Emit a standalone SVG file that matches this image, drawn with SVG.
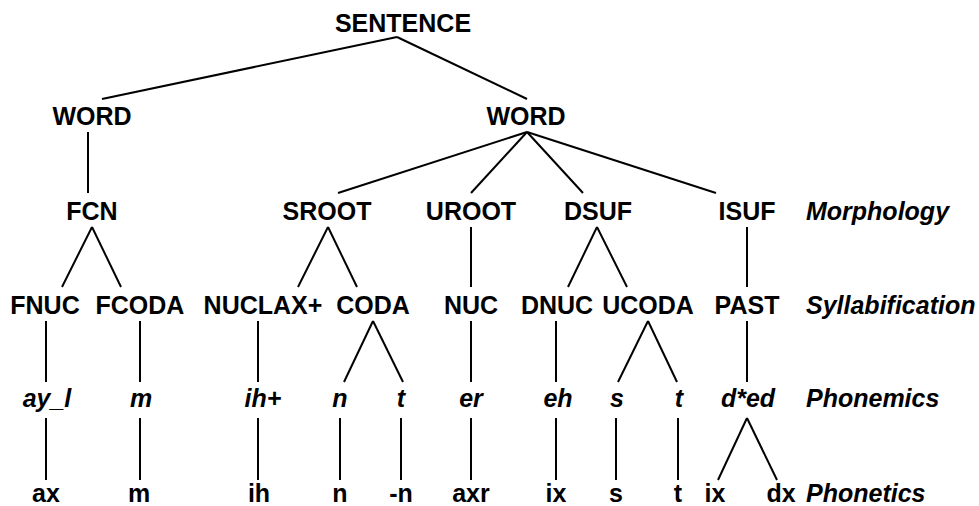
<svg xmlns="http://www.w3.org/2000/svg" width="979" height="506" viewBox="0 0 979 506">
<style>
text{font-family:"Liberation Sans",Arial,sans-serif;font-weight:bold;font-size:25px;fill:#000;text-anchor:middle}
.i{font-style:italic}
.lab{font-style:italic;text-anchor:start}
#edges line{stroke:#000;stroke-width:2}
</style>
<rect width="979" height="506" fill="#fff"/>
<g id="edges">
<line x1="397" y1="37" x2="102" y2="99"/>
<line x1="397" y1="37" x2="527" y2="99"/>
<line x1="88" y1="132" x2="88" y2="193"/>
<line x1="527" y1="132" x2="338" y2="193"/>
<line x1="527" y1="132" x2="471" y2="193"/>
<line x1="527" y1="132" x2="583" y2="193"/>
<line x1="527" y1="132" x2="716" y2="193"/>
<line x1="92" y1="227" x2="62" y2="287"/>
<line x1="92" y1="227" x2="121" y2="287"/>
<line x1="328" y1="227" x2="298" y2="287"/>
<line x1="328" y1="227" x2="357" y2="287"/>
<line x1="471" y1="227" x2="471" y2="287"/>
<line x1="597" y1="227" x2="568" y2="287"/>
<line x1="597" y1="227" x2="627" y2="287"/>
<line x1="747" y1="227" x2="747" y2="287"/>
<line x1="46" y1="321" x2="46" y2="382"/>
<line x1="140" y1="321" x2="140" y2="382"/>
<line x1="258" y1="321" x2="258" y2="382"/>
<line x1="373" y1="321" x2="344" y2="382"/>
<line x1="373" y1="321" x2="403" y2="382"/>
<line x1="471" y1="321" x2="471" y2="382"/>
<line x1="556" y1="321" x2="556" y2="382"/>
<line x1="648" y1="321" x2="618" y2="382"/>
<line x1="648" y1="321" x2="677" y2="382"/>
<line x1="747" y1="321" x2="747" y2="382"/>
<line x1="46" y1="418" x2="46" y2="480"/>
<line x1="140" y1="418" x2="140" y2="480"/>
<line x1="258" y1="418" x2="258" y2="480"/>
<line x1="340" y1="418" x2="340" y2="480"/>
<line x1="401" y1="418" x2="401" y2="480"/>
<line x1="471" y1="418" x2="471" y2="480"/>
<line x1="556" y1="418" x2="556" y2="480"/>
<line x1="616" y1="418" x2="616" y2="480"/>
<line x1="678" y1="418" x2="678" y2="480"/>
<line x1="747" y1="418" x2="718" y2="480"/>
<line x1="747" y1="418" x2="777" y2="480"/>
</g>
<g id="sentence"><text x="403" y="32">SENTENCE</text></g>
<g id="word1"><text x="92" y="125">WORD</text></g>
<g id="word2"><text x="526" y="125">WORD</text></g>
<g id="fcn"><text x="92" y="220">FCN</text></g>
<g id="sroot"><text x="327" y="220">SROOT</text></g>
<g id="uroot"><text x="471" y="220">UROOT</text></g>
<g id="dsuf"><text x="598" y="220">DSUF</text></g>
<g id="isuf"><text x="747" y="220">ISUF</text></g>
<g id="fnuc"><text x="45" y="314">FNUC</text></g>
<g id="fcoda"><text x="140" y="314">FCODA</text></g>
<g id="nuclax"><text x="263" y="314">NUCLAX+</text></g>
<g id="coda"><text x="373" y="314">CODA</text></g>
<g id="nuc"><text x="471" y="314">NUC</text></g>
<g id="dnuc"><text x="557" y="314">DNUC</text></g>
<g id="ucoda"><text x="648" y="314">UCODA</text></g>
<g id="past"><text x="747" y="314">PAST</text></g>
<g id="p-ayl"><text class="i" x="47" y="407">ay_l</text></g>
<g id="p-m"><text class="i" x="141" y="407">m</text></g>
<g id="p-ih"><text class="i" x="263" y="407">ih+</text></g>
<g id="p-n"><text class="i" x="340" y="407">n</text></g>
<g id="p-t1"><text class="i" x="401" y="407">t</text></g>
<g id="p-er"><text class="i" x="471" y="407">er</text></g>
<g id="p-eh"><text class="i" x="558" y="407">eh</text></g>
<g id="p-s"><text class="i" x="617" y="407">s</text></g>
<g id="p-t2"><text class="i" x="679" y="407">t</text></g>
<g id="p-ded"><text class="i" x="748" y="407">d*ed</text></g>
<g id="f-ax"><text x="46" y="502">ax</text></g>
<g id="f-m"><text x="139" y="502">m</text></g>
<g id="f-ih"><text x="259" y="502">ih</text></g>
<g id="f-n"><text x="340" y="502">n</text></g>
<g id="f-nn"><text x="401" y="502">-n</text></g>
<g id="f-axr"><text x="471" y="502">axr</text></g>
<g id="f-ix1"><text x="556" y="502">ix</text></g>
<g id="f-s"><text x="616" y="502">s</text></g>
<g id="f-t"><text x="678" y="502">t</text></g>
<g id="f-ix2"><text x="715" y="502">ix</text></g>
<g id="f-dx"><text x="781" y="502">dx</text></g>
<g id="labels">
<text class="lab" x="806" y="220">Morphology</text>
<text class="lab" x="806" y="314">Syllabification</text>
<text class="lab" x="806" y="407">Phonemics</text>
<text class="lab" x="806" y="502">Phonetics</text>
</g>
</svg>
